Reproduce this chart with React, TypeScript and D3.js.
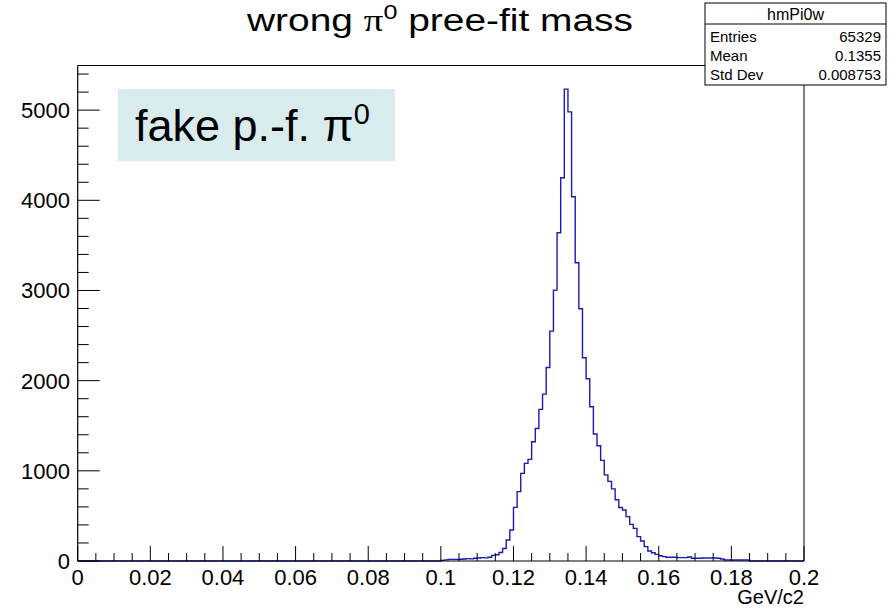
import React from "react";
import * as d3 from "d3";

// ---- data ----
const binStart = 0.1; // low edge of first listed bin
const binWidth = 0.001;
const counts = [
  7, 12, 18, 18, 18, 20, 22, 26, 24, 30,
  33, 37, 35, 41, 62, 70, 94, 138, 233, 344,
  595, 769, 972, 1083, 1127, 1323, 1470, 1681, 1851, 2146,
  2549, 3004, 3640, 4250, 5233, 4981, 4039, 3307, 2797, 2254,
  2021, 1711, 1408, 1278, 1116, 955, 883, 800, 680, 594,
  566, 492, 406, 362, 270, 222, 159, 111, 92, 74,
  59, 48, 41, 41, 41, 37, 37, 37, 44, 30,
  30, 30, 33, 33, 33, 33, 30, 22, 11, 11,
  11, 11, 11, 11, 11,
];
const xTickValues = [0, 0.02, 0.04, 0.06, 0.08, 0.1, 0.12, 0.14, 0.16, 0.18, 0.2];
const xTickLabels = ["0", "0.02", "0.04", "0.06", "0.08", "0.1", "0.12", "0.14", "0.16", "0.18", "0.2"];
const yTickValues = [0, 1000, 2000, 3000, 4000, 5000];
const yTickLabels = ["0", "1000", "2000", "3000", "4000", "5000"];
const statsName = "hmPi0w";
const statsRows = [
  ["Entries", "65329"],
  ["Mean", "0.1355"],
  ["Std Dev", "0.008753"],
];
const xDomain = [0, 0.2];
const yMax = 5495;

const FONT = "'Liberation Sans', Arial, Helvetica, sans-serif";

export default function App() {
  const W = 890, H = 608;
  const left = 77.7, right = 804, top = 65.5, bottom = 561;
  const x = d3.scaleLinear().domain(xDomain).range([left, right]);
  const y = d3.scaleLinear().domain([0, yMax]).range([bottom, top]);

  // step outline of the histogram
  const pts: [number, number][] = [];
  pts.push([x(xDomain[0]), y(0)]);
  pts.push([x(binStart), y(0)]);
  counts.forEach((c, i) => {
    const lo = binStart + i * binWidth;
    pts.push([x(lo), y(c)]);
    pts.push([x(lo + binWidth), y(c)]);
  });
  pts.push([x(binStart + counts.length * binWidth), y(0)]);
  pts.push([x(xDomain[1]), y(0)]);
  const path = d3.line()(pts) || "";

  const xMinor = d3.range(0, 41).map((i) => i * 0.005);
  const yMinor = d3.range(0, 28).map((i) => i * 200).filter((v) => v <= yMax);

  return (
    <svg
      width={W}
      height={H}
      style={{ position: "fixed", left: 0, top: 0, background: "#fff" }}
      fontFamily={FONT}
    >
      <rect x={0} y={0} width={W} height={H} fill="#fff" />
      {/* title */}
      <text x={247} y={31} fontSize={31} fill="#000" textLength={386} lengthAdjust="spacingAndGlyphs">
        wrong <tspan fontFamily="'Liberation Serif', 'DejaVu Serif', serif">π</tspan>
        <tspan fontSize={20} dy={-12}>0</tspan>
        <tspan dy={12}> pree-fit mass</tspan>
      </text>

      {/* histogram */}
      <path d={path} fill="none" stroke="#1a1ab4" strokeWidth={1.4} />

      {/* frame */}
      <line x1={left} x2={705} y1={top} y2={top} stroke="#000" strokeWidth={1} />
      <line x1={right} x2={right} y1={85} y2={bottom} stroke="#000" strokeWidth={1} />
      <line x1={left} x2={left} y1={top} y2={bottom} stroke="#000" strokeWidth={1.2} />
      <line x1={left} x2={right} y1={bottom} y2={bottom} stroke="#000" strokeWidth={1.2} />

      {/* x ticks */}
      {xMinor.map((v, i) => (
        <line key={"xm" + i} x1={x(v)} x2={x(v)} y1={bottom} y2={bottom - (i % 4 === 0 ? 15 : 8)} stroke="#000" strokeWidth={1} />
      ))}
      {xTickValues.map((v, i) => (
        <text key={"xt" + i} x={x(v)} y={585} textAnchor="middle" fontSize={22} fill="#000">
          {xTickLabels[i]}
        </text>
      ))}
      <text x={right} y={604} textAnchor="end" fontSize={20} fill="#000">GeV/c2</text>

      {/* y ticks */}
      {yMinor.map((v, i) => (
        <line key={"ym" + i} x1={left} x2={left + (v % 1000 === 0 ? 22 : 11)} y1={y(v)} y2={y(v)} stroke="#000" strokeWidth={1} />
      ))}
      {yTickValues.map((v, i) => (
        <text key={"yt" + i} x={70} y={y(v) + 8} textAnchor="end" fontSize={22} fill="#000">
          {yTickLabels[i]}
        </text>
      ))}

      {/* label box */}
      <rect x={118} y={89} width={277} height={72} fill="#d8ecee" />
      <text x={135} y={141} fontSize={45} fill="#000">
        fake p.-f. π<tspan fontSize={29} dy={-17}>0</tspan>
      </text>

      {/* stats box */}
      <rect x={705} y={3} width={181} height={82} fill="#fff" stroke="#000" strokeWidth={1} />
      <line x1={705} x2={886} y1={24} y2={24} stroke="#000" strokeWidth={1} />
      <text x={795.5} y={19.5} textAnchor="middle" fontSize={16} fill="#000">{statsName}</text>
      {statsRows.map((r, i) => (
        <g key={"s" + i}>
          <text x={710} y={42 + i * 19} fontSize={15} fill="#000">{r[0]}</text>
          <text x={881} y={42 + i * 19} textAnchor="end" fontSize={15} fill="#000">{r[1]}</text>
        </g>
      ))}
    </svg>
  );
}
